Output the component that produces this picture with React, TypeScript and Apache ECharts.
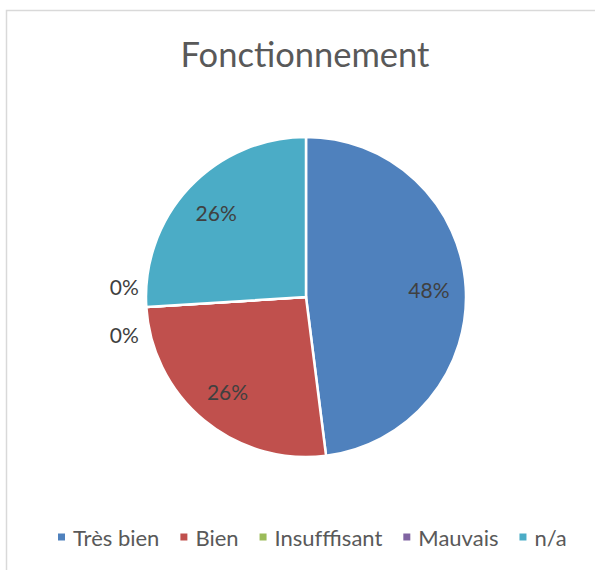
import React, { useEffect, useRef } from "react";
import * as echarts from "echarts";

const title = "Fonctionnement";
const categories = ["Très bien", "Bien", "Insufffisant", "Mauvais", "n/a"];
const values = [48, 26, 0, 0, 26];
const colors = ["#4F81BD", "#C0504D", "#9BBB59", "#8064A2", "#4BACC6"];

const FONT = "Lato, 'Open Sans', sans-serif";
const CX = 306;
const CY = 297;
const R = 160;

export default function App() {
  const ref = useRef<HTMLDivElement>(null);
  useEffect(() => {
    document.body.style.margin = "0";
    if (!ref.current) return;
    const chart = echarts.init(ref.current, null, { renderer: "svg" });
    const total = values.reduce((a, b) => a + b, 0);
    const labelLayout = (p: any) => {
      const i = p.dataIndex;
      let cum = 0;
      for (let j = 0; j < i; j++) cum += values[j];
      if (values[i] > 0) {
        const a = ((cum + values[i] / 2) / total) * Math.PI * 2;
        const r = R * 0.77;
        return { x: CX + r * Math.sin(a), y: CY - r * Math.cos(a), align: "center", verticalAlign: "middle" };
      }
      const a = (cum / total) * Math.PI * 2;
      const bx = CX + R * Math.sin(a);
      const by = CY - R * Math.cos(a);
      let k = 0;
      for (let j = i - 1; j >= 0 && values[j] === 0; j--) k++;
      return { x: bx - 22, y: by + (k === 0 ? 27 : -21), align: "center", verticalAlign: "middle" };
    };
    chart.setOption({
      animation: false,
      color: colors,
      title: {
        text: title,
        left: 300,
        textAlign: "center",
        top: 31,
        textStyle: { fontFamily: FONT, fontSize: 34.5, fontWeight: "normal", color: "#595959" },
      },
      graphic: [
        {
          type: "rect",
          shape: { x: 6.5, y: 10.5, width: 700, height: 700 },
          style: { fill: "none", stroke: "#D9D9D9", lineWidth: 1.5 },
          silent: true,
        },
      ],
      legend: {
        data: categories,
        left: 51,
        top: 521,
        icon: "rect",
        itemWidth: 9,
        itemHeight: 9,
        itemGap: 19,
        textStyle: { fontFamily: FONT, fontSize: 22, color: "#595959", padding: [0, 0, 0, 2] },
      },
      series: [
        {
          type: "pie",
          center: [CX, CY],
          radius: [0, R],
          startAngle: 90,
          clockwise: true,
          avoidLabelOverlap: false,
          percentPrecision: 0,
          itemStyle: { borderColor: "#FFFFFF", borderWidth: 2.5 },
          label: {
            show: true,
            position: "inside",
            formatter: "{d}%",
            fontFamily: FONT,
            fontSize: 21,
            color: "#404040",
          },
          labelLine: { show: false },
          labelLayout,
          emphasis: { disabled: true },
          data: categories.map((name, i) => ({ name, value: values[i] })),
        },
      ],
    });
    return () => chart.dispose();
  }, []);
  return <div ref={ref} style={{ width: 595, height: 570 }} />;
}
